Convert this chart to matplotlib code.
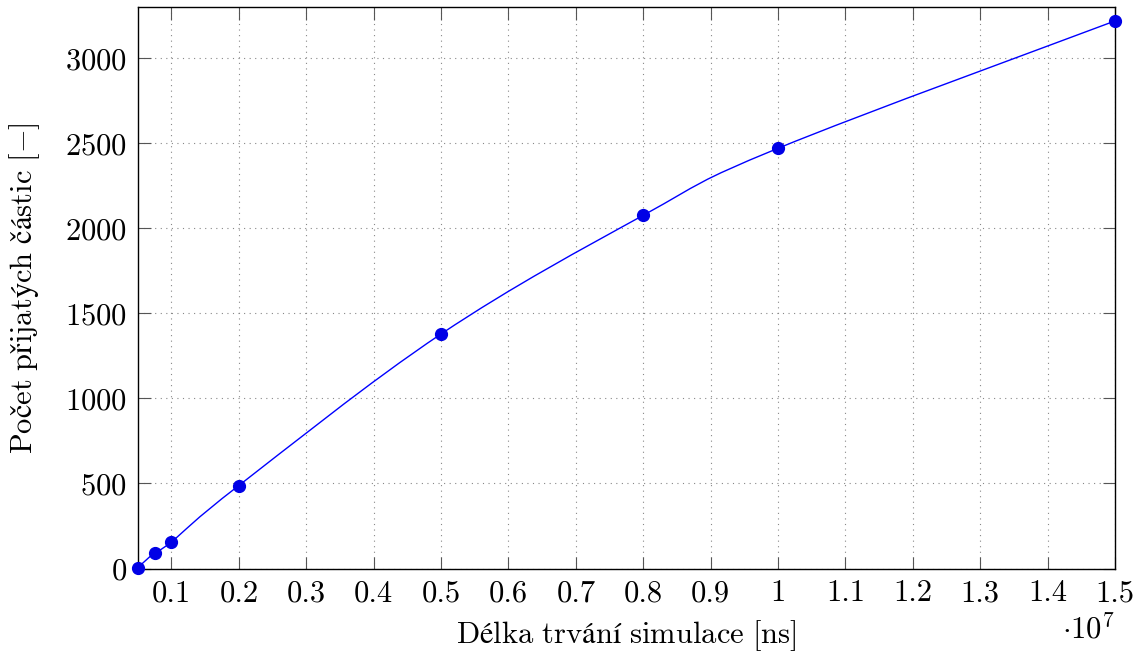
import numpy as np
import matplotlib
matplotlib.use('Agg')
import matplotlib.pyplot as plt
from matplotlib.path import Path
from matplotlib.patches import PathPatch

plt.rcParams['font.family'] = ['cmr10', 'DejaVu Serif']
plt.rcParams['mathtext.fontset'] = 'cm'
plt.rcParams['axes.formatter.use_mathtext'] = True

# data (x in units of 1e7 ns)
sim_time = [0.05, 0.075, 0.1, 0.2, 0.5, 0.8, 1.0, 1.5]
particles = [5, 92, 157, 488, 1379, 2077, 2471, 3220]

xticks = [0.1, 0.2, 0.3, 0.4, 0.5, 0.6, 0.7, 0.8, 0.9, 1.0, 1.1, 1.2, 1.3, 1.4, 1.5]
xtick_labels = ['0.1', '0.2', '0.3', '0.4', '0.5', '0.6', '0.7', '0.8', '0.9', '1',
                '1.1', '1.2', '1.3', '1.4', '1.5']
yticks = [0, 500, 1000, 1500, 2000, 2500, 3000]

fig = plt.figure(figsize=(11.44, 6.53), dpi=100)
ax = fig.add_axes([0.1204, 0.1294, 0.8543, 0.8594])

# smooth curve through the points (catmull-rom style bezier, like pgfplots "smooth")
x = np.array(sim_time)
y = np.array(particles, dtype=float)
k = 0.18
verts = [(x[0], y[0])]
codes = [Path.MOVETO]
for i in range(len(x) - 1):
    i0 = max(i - 1, 0)
    i3 = min(i + 2, len(x) - 1)
    c1 = (x[i] + k * (x[i + 1] - x[i0]), y[i] + k * (y[i + 1] - y[i0]))
    c2 = (x[i + 1] - k * (x[i3] - x[i]), y[i + 1] - k * (y[i3] - y[i]))
    verts += [c1, c2, (x[i + 1], y[i + 1])]
    codes += [Path.CURVE4] * 3
ax.add_patch(PathPatch(Path(verts, codes), facecolor='none', edgecolor='#0000ff',
                       lw=1.0, zorder=3))
ax.plot(sim_time, particles, ls='none', marker='o', ms=8.5, color='#0000e6', zorder=4,
        clip_on=False)

ax.set_xlim(0.05, 1.5)
ax.set_ylim(0, 3300)
ax.set_xticks(xticks)
ax.set_xticklabels(xtick_labels)
ax.set_yticks(yticks)
ax.tick_params(direction='in', length=9, width=0.8, color='#555555', labelsize=22,
               top=True, right=True, pad=8)
ax.grid(True, ls=(0, (1, 4)), color='#888888', lw=0.8)
for s in ax.spines.values():
    s.set_linewidth(1.0)

# labels in mathtext so the accented letters stay in Computer Modern
ax.set_xlabel(r'$\mathrm{Délka\ trvání\ simulace\ [ns]}$', fontsize=22, labelpad=8)
ax.set_ylabel(r'$\mathrm{Počet\ přijatých\ částic\ [-]}$', fontsize=22, labelpad=16)
ax.text(1.0, -0.125, r'$\cdot10^{7}$', transform=ax.transAxes, ha='right',
        va='baseline', fontsize=22)

fig.savefig('out.png', dpi=100)
